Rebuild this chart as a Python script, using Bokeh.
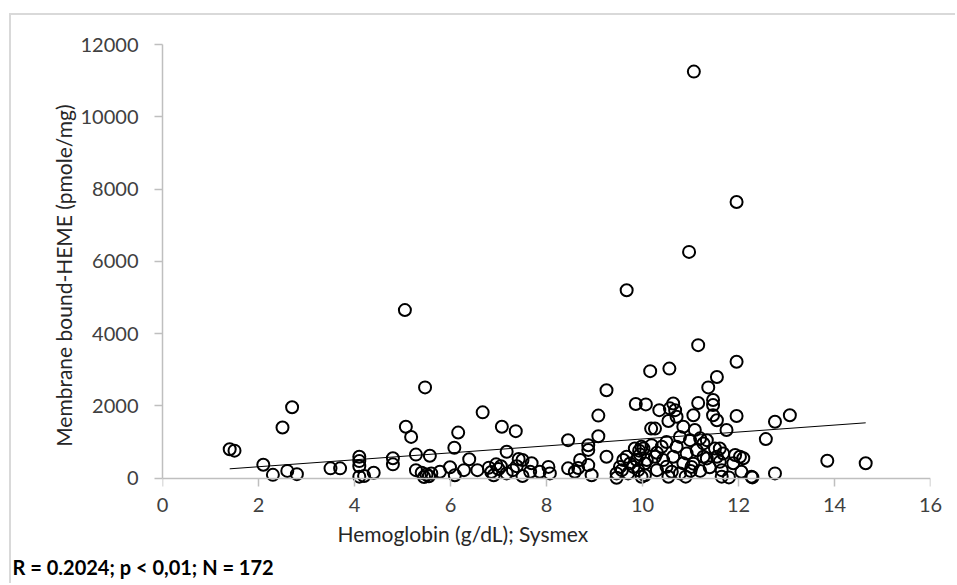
import numpy as np
from bokeh.plotting import figure
from bokeh.models import Range1d, FixedTicker, LinearAxis, Title
from bokeh.embed import file_html
from bokeh.resources import INLINE

# ---- data ----
hemoglobin = [
    1.40, 1.50, 2.10, 2.30, 2.50, 2.60, 2.70, 2.80, 3.50, 3.70,
    4.10, 4.10, 4.10, 4.10, 4.20, 4.40, 4.80, 4.80, 5.05, 5.07,
    5.18, 5.28, 5.28, 5.47, 5.40, 5.50, 5.60, 5.45, 5.55, 5.57,
    5.78, 5.99, 6.08, 6.09, 6.16, 6.28, 6.39, 6.56, 6.67, 6.80,
    6.85, 6.95, 7.00, 7.05, 6.90, 7.07, 7.17, 7.17, 7.36, 7.42,
    7.50, 7.38, 7.50, 7.30, 7.69, 7.66, 7.86, 8.04, 8.07, 8.45,
    8.45, 8.59, 8.70, 8.66, 8.87, 8.87, 8.87, 8.94, 9.08, 9.08,
    9.25, 9.25, 9.67, 9.86, 10.07, 9.46, 9.46, 9.57, 9.67, 9.74,
    9.84, 9.98, 9.91, 9.98, 10.05, 10.19, 10.26, 10.30, 10.40, 10.43,
    10.50, 10.54, 10.61, 10.64, 9.60, 9.81, 9.88, 9.93, 10.02, 10.09,
    9.70, 9.53, 10.05, 10.16, 10.56, 10.35, 10.57, 10.64, 10.54, 10.18,
    10.26, 10.68, 10.71, 10.85, 11.09, 10.78, 10.99, 11.20, 11.27, 11.34,
    10.97, 11.07, 11.16, 11.96, 11.96, 11.55, 11.37, 11.47, 11.47, 11.16,
    11.96, 11.47, 11.55, 11.75, 11.06, 10.71, 10.92, 11.13, 10.85, 11.02,
    10.78, 11.06, 11.27, 10.90, 11.00, 11.51, 11.61, 11.68, 11.55, 11.61,
    11.65, 11.65, 11.93, 12.03, 12.10, 11.89, 12.06, 12.27, 11.34, 11.80,
    13.07, 12.76, 12.57, 11.40, 13.85, 14.65, 12.76, 12.29, 10.50, 10.30,
    11.20, 9.95,
]
heme = [
    800, 760, 370, 90, 1400, 200, 1960, 110, 270, 270,
    590, 470, 330, 40, 60, 150, 550, 380, 4650, 1420,
    1140, 650, 220, 2510, 150, 100, 130, 30, 50, 620,
    175, 300, 840, 80, 1260, 220, 520, 220, 1820, 290,
    170, 380, 250, 330, 80, 1420, 730, 130, 1300, 530,
    500, 330, 60, 220, 410, 175, 175, 310, 130, 1050,
    270, 175, 500, 280, 910, 780, 360, 80, 1730, 1160,
    2430, 590, 5200, 2050, 2040, 130, 10, 220, 590, 406,
    820, 866, 220, 36, 406, 912, 590, 220, 866, 498,
    312, 36, 175, 590, 500, 310, 500, 760, 820, 500,
    130, 310, 80, 2960, 3030, 1880, 1930, 2065, 1580, 1370,
    1370, 1880, 1700, 1420, 1330, 1140, 1050, 1100, 960, 1050,
    6260, 11250, 3680, 3220, 7640, 2800, 2510, 2160, 2020, 2080,
    1720, 1740, 1600, 1330, 1740, 870, 680, 770, 410, 310,
    130, 400, 590, 40, 200, 820, 820, 680, 590, 450,
    220, 40, 640, 590, 550, 410, 175, 36, 545, 20,
    1740, 1560, 1080, 300, 480, 410, 130, 20, 1000, 700,
    200, 650,
]
trend_x = [1.40, 14.65]
trend_y = [257, 1530]
x_ticks = [0, 2, 4, 6, 8, 10, 12, 14, 16]
y_ticks = [0, 2000, 4000, 6000, 8000, 10000, 12000]
x_title = "Hemoglobin (g/dL); Sysmex"
y_title = "Membrane bound-HEME (pmole/mg)"
stats_text = "R = 0.2024; p < 0,01; N = 172"

FONT = "Lato"
AXIS_GRAY = "#bfbfbf"

p = figure(
    width=946, height=570,
    x_range=Range1d(0, 16), y_range=Range1d(-260, 12000),
    output_backend="svg", toolbar_location=None,
    min_border_left=151, min_border_right=27,
    min_border_top=29, min_border_bottom=98,
    margin=(13, 0, 0, 9),
    styles={"border-top": "2px solid #d9d9d9", "border-left": "2px solid #d9d9d9"},
)
p.outline_line_color = None
p.grid.visible = False
p.background_fill_color = "white"
p.border_fill_color = "white"

p.line(trend_x, trend_y, line_color="black", line_width=1)
p.scatter(hemoglobin, heme, marker="circle", size=12, fill_color=None,
          line_color="black", line_width=2)

# y axis (at frame left, line limited to 0..12000)
ya = p.yaxis[0]
ya.ticker = FixedTicker(ticks=y_ticks)
ya.bounds = (0, 12000)
ya.axis_line_color = AXIS_GRAY
ya.axis_line_width = 1.5
ya.major_tick_line_color = AXIS_GRAY
ya.major_tick_line_width = 1.5
ya.major_tick_in = 0
ya.major_tick_out = 8
ya.minor_tick_line_color = None
ya.major_label_text_font = FONT
ya.major_label_text_font_size = "20px"
ya.major_label_text_color = "#404040"
ya.major_label_standoff = 16

# x axis A: tick labels only, at frame bottom
xa = p.xaxis[0]
xa.ticker = FixedTicker(ticks=x_ticks)
xa.axis_line_color = None
xa.major_tick_line_color = None
xa.minor_tick_line_color = None
xa.major_tick_in = 0
xa.major_tick_out = 0
xa.major_label_text_font = FONT
xa.major_label_text_font_size = "20px"
xa.major_label_text_color = "#404040"
xa.major_label_standoff = 10

# x axis B: line and downward ticks drawn at y = 0
xb = LinearAxis(ticker=FixedTicker(ticks=x_ticks), fixed_location=0)
xb.axis_line_color = AXIS_GRAY
xb.axis_line_width = 1.5
xb.major_tick_line_color = AXIS_GRAY
xb.major_tick_line_width = 1.5
xb.major_tick_in = 8
xb.major_tick_out = 0
xb.minor_tick_line_color = None
xb.major_label_text_font_size = "1px"
xb.major_label_text_color = None
xb.major_label_standoff = 0
p.add_layout(xb, "above")

p.add_layout(Title(text=y_title, align="right", offset=60, standoff=3,
                   text_font=FONT, text_font_size="21px", text_font_style="normal",
                   text_color="#262626"), "left")
p.add_layout(Title(text=x_title, align="left", offset=175, standoff=8,
                   text_font=FONT, text_font_size="21px", text_font_style="normal",
                   text_color="#262626"), "below")
p.add_layout(Title(text=stats_text, align="left", offset=-150, standoff=7,
                   text_font=FONT, text_font_size="20px", text_font_style="bold",
                   text_color="black"), "below")

open("out.html", "w").write(file_html(p, INLINE))
